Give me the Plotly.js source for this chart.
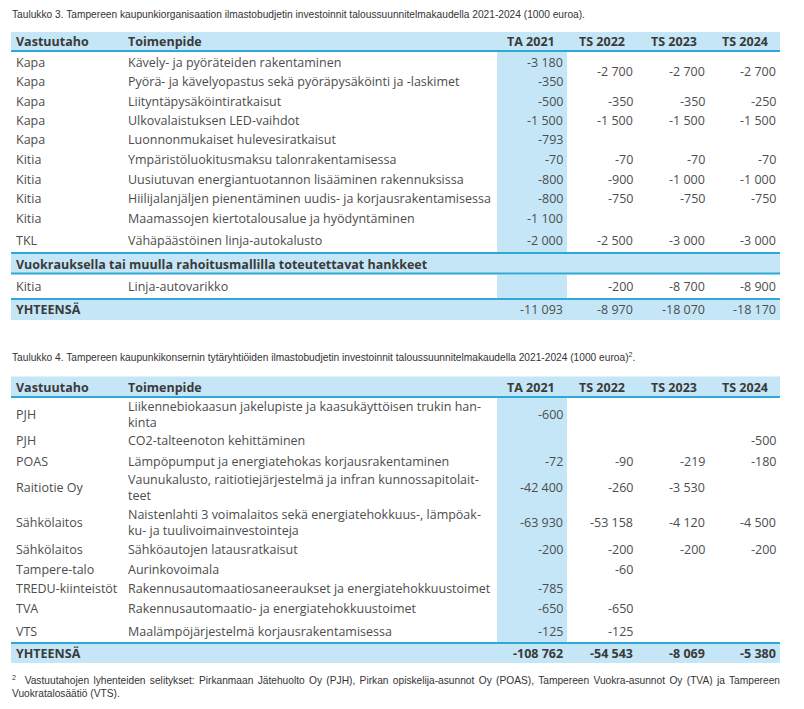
<!DOCTYPE html>
<html>
<head>
<meta charset="utf-8">
<script src="https://cdn.plot.ly/plotly-3.0.1.min.js"></script>
<style>html,body{margin:0;padding:0;background:#fff;}#chart{width:804px;height:709px;}</style>
</head>
<body>
<div id="chart"></div>
<script>
// ---------- DATA ----------
const columns = ['Vastuutaho', 'Toimenpide', 'TA 2021', 'TS 2022', 'TS 2023', 'TS 2024'];

const t1Title = 'Taulukko 3. Tampereen kaupunkiorganisaation ilmastobudjetin investoinnit taloussuunnitelmakaudella 2021-2024 (1000 euroa).';
const t1Vastuu = ['Kapa', 'Kapa', 'Kapa', 'Kapa', 'Kapa', 'Kitia', 'Kitia', 'Kitia', 'Kitia', 'TKL'];
const t1Toimenpide = [
  'Kävely- ja pyöräteiden rakentaminen',
  'Pyörä- ja kävelyopastus sekä pyöräpysäköinti ja -laskimet',
  'Liityntäpysäköintiratkaisut',
  'Ulkovalaistuksen LED-vaihdot',
  'Luonnonmukaiset hulevesiratkaisut',
  'Ympäristöluokitusmaksu talonrakentamisessa',
  'Uusiutuvan energiantuotannon lisääminen rakennuksissa',
  'Hiilijalanjäljen pienentäminen uudis- ja korjausrakentamisessa',
  'Maamassojen kiertotalousalue ja hyödyntäminen',
  'Vähäpäästöinen linja-autokalusto'
];
const t1TA     = [-3180, -350, -500, -1500, -793, -70, -800, -800, -1100, -2000];
// rows 0 and 1 share one merged cell in the TS columns
const t1TS2022 = [-2700, null, -350, -1500, null, -70, -900, -750, null, -2500];
const t1TS2023 = [-2700, null, -350, -1500, null, -70, -1000, -750, null, -3000];
const t1TS2024 = [-2700, null, -250, -1500, null, -70, -1000, -750, null, -3000];
const t1MergedRows = [0, 1];

const t1Section = 'Vuokrauksella tai muulla rahoitusmallilla toteutettavat hankkeet';
const t1SecVastuu = ['Kitia'];
const t1SecToimenpide = ['Linja-autovarikko'];
const t1SecTA = [null];
const t1SecTS2022 = [-200];
const t1SecTS2023 = [-8700];
const t1SecTS2024 = [-8900];

const totalLabel = 'YHTEENSÄ';
const t1Total = [-11093, -8970, -18070, -18170];

const t2Title = 'Taulukko 4. Tampereen kaupunkikonsernin tytäryhtiöiden ilmastobudjetin investoinnit taloussuunnitelmakaudella 2021-2024 (1000 euroa)<sup>2</sup>.';
const t2Vastuu = ['PJH', 'PJH', 'POAS', 'Raitiotie Oy', 'Sähkölaitos', 'Sähkölaitos', 'Tampere-talo', 'TREDU-kiinteistöt', 'TVA', 'VTS'];
const t2Toimenpide = [
  'Liikennebiokaasun jakelupiste ja kaasukäyttöisen trukin han-<br>kinta',
  'CO2-talteenoton kehittäminen',
  'Lämpöpumput ja energiatehokas korjausrakentaminen',
  'Vaunukalusto, raitiotiejärjestelmä ja infran kunnossapitolait-<br>teet',
  'Naistenlahti 3 voimalaitos sekä energiatehokkuus-, lämpöak-<br>ku- ja tuulivoimainvestointeja',
  'Sähköautojen latausratkaisut',
  'Aurinkovoimala',
  'Rakennusautomaatiosaneeraukset ja energiatehokkuustoimet',
  'Rakennusautomaatio- ja energiatehokkuustoimet',
  'Maalämpöjärjestelmä korjausrakentamisessa'
];
const t2TA     = [-600, null, -72, -42400, -63930, -200, null, -785, -650, -125];
const t2TS2022 = [null, null, -90, -260, -53158, -200, -60, null, -650, -125];
const t2TS2023 = [null, null, -219, -3530, -4120, -200, null, null, null, null];
const t2TS2024 = [null, -500, -180, null, -4500, -200, null, null, null, null];
const t2Total = [-108762, -54543, -8069, -5380];

const footnoteLine1 = '<sup>2</sup>  Vastuutahojen lyhenteiden selitykset: Pirkanmaan Jätehuolto Oy (PJH), Pirkan opiskelija-asunnot Oy (POAS), Tampereen Vuokra-asunnot Oy (TVA) ja Tampereen';
const footnoteLine2 = 'Vuokratalosäätiö (VTS).';

// ---------- LAYOUT (positions / styles) ----------
const LIGHT = '#c5e6f6';
const LINE = '#2ea8d8';
const TXT = '#4d4d4d';
const HDR = '#3a3a3a';
const BODY_FONT = 'Open Sans, Noto Sans, sans-serif';
const NARROW_FONT = 'Liberation Sans, Arial, sans-serif';
const FS = 12.5;
const NFS = 10.2;

const tableLeft = 11, tableRight = 780;
const colX = [15, 127, 564, 634, 706, 777];       // left for first two, right edge for numeric
const taBand = [497, 567];

const L1 = { title: 14, hdrTop: 32, hdrBot: 50.5,
  rows: [62, 81, 101, 120, 139, 159, 179, 198, 218, 240], merged: 71.5,
  secTop: 253, secBot: 273.5, secText: 264, secRows: [286],
  totTop: 299, totBot: 320, totText: 309.5 };
const L2 = { title: 357, hdrTop: 376.5, hdrBot: 396.5,
  rows: [414, 440, 461, 487, 522, 549, 569, 588, 608, 631],
  totTop: 643, totBot: 663, totText: 653.5, foot1: 680, foot2: 693 };

function fmt(v) {
  if (v === null || v === undefined) return '';
  const s = Math.abs(v).toString().replace(/\B(?=(\d{3})+(?!\d))/g, ' ');
  return (v < 0 ? '-' : '') + s;
}

const shapes = [];
const ann = [];
function rect(x0, x1, y0, y1, color) {
  shapes.push({ type: 'rect', xref: 'x', yref: 'y', x0, x1, y0, y1, fillcolor: color, line: { width: 0 }, layer: 'below' });
}
function hline(y, w) {
  shapes.push({ type: 'line', xref: 'x', yref: 'y', x0: tableLeft, x1: tableRight, y0: y, y1: y, line: { color: LINE, width: w || 2 } });
}
function txt(x, y, text, anchor, opts) {
  opts = opts || {};
  ann.push({ xref: 'x', yref: 'y', x, y, text, showarrow: false, xanchor: anchor, yanchor: 'middle',
    align: anchor === 'right' ? 'right' : 'left', borderpad: 0, name: opts.name || '',
    font: { family: opts.family || BODY_FONT, size: opts.size || FS, color: opts.color || TXT, weight: opts.weight || 400 } });
}
function header(L) {
  rect(tableLeft, tableRight, L.hdrTop, L.hdrBot, LIGHT);
  hline(L.hdrBot + 0.5, 2);
  const yc = (L.hdrTop + L.hdrBot) / 2 + 0.5;
  columns.forEach((c, i) => {
    const x = i < 2 ? colX[i] : colX[i] - 8;
    txt(x, yc, c, i < 2 ? 'left' : 'right', { weight: 700, color: HDR });
  });
}
function rows(ys, vast, toim, cols, mergedRows, mergedY) {
  ys.forEach((y, r) => {
    txt(colX[0], y, vast[r], 'left');
    txt(colX[1], y, toim[r], 'left');
    cols.forEach((arr, c) => {
      if (arr[r] === null) return;
      let yy = y;
      if (c > 0 && mergedRows && mergedRows.indexOf(r) === 0) yy = mergedY;
      txt(colX[c + 2], yy, fmt(arr[r]), 'right');
    });
  });
}
function totals(L, vals, bold) {
  rect(tableLeft, tableRight, L.totTop, L.totBot, LIGHT);
  hline(L.totTop, 2);
  txt(colX[0], L.totText, totalLabel, 'left', { weight: 700, color: HDR });
  vals.forEach((v, i) => txt(colX[i + 2], L.totText, fmt(v), 'right', bold ? { weight: 700, color: HDR } : {}));
}

// Table 1
txt(11, L1.title, t1Title, 'left', { family: NARROW_FONT, size: NFS, color: '#333' });
header(L1);
rect(taBand[0], taBand[1], L1.hdrBot + 1, L1.secTop, LIGHT);
rows(L1.rows, t1Vastuu, t1Toimenpide, [t1TA, t1TS2022, t1TS2023, t1TS2024], t1MergedRows, L1.merged);
rect(tableLeft, tableRight, L1.secTop, L1.secBot, LIGHT);
hline(L1.secTop, 2);
hline(L1.secBot, 2);
txt(colX[0], L1.secText, t1Section, 'left', { weight: 700, color: HDR });
rect(taBand[0], taBand[1], L1.secBot + 1, L1.totTop, LIGHT);
rows(L1.secRows, t1SecVastuu, t1SecToimenpide, [t1SecTA, t1SecTS2022, t1SecTS2023, t1SecTS2024]);
totals(L1, t1Total, false);

// Table 2
txt(11, L2.title, t2Title, 'left', { family: NARROW_FONT, size: NFS, color: '#333' });
header(L2);
rect(taBand[0], taBand[1], L2.hdrBot + 1, L2.totTop, LIGHT);
rows(L2.rows, t2Vastuu, t2Toimenpide, [t2TA, t2TS2022, t2TS2023, t2TS2024]);
totals(L2, t2Total, true);
txt(11, L2.foot1, footnoteLine1, 'left', { family: NARROW_FONT, size: NFS, color: '#333', name: 'foot1' });
txt(11, L2.foot2, footnoteLine2, 'left', { family: NARROW_FONT, size: NFS, color: '#333' });

const data = [{ type: 'scatter', x: [0], y: [0], mode: 'markers', marker: { opacity: 0 }, hoverinfo: 'skip', showlegend: false }];
const layout = {
  width: 804, height: 709,
  margin: { l: 0, r: 0, t: 0, b: 0, pad: 0 },
  paper_bgcolor: '#fff', plot_bgcolor: '#fff',
  xaxis: { range: [0, 804], visible: false, fixedrange: true },
  yaxis: { range: [709, 0], visible: false, fixedrange: true },
  shapes, annotations: ann, showlegend: false
};
Plotly.newPlot('chart', data, layout, { staticPlot: true, displayModeBar: false }).then(() => {
  // justify the first footnote line to the table width, as in the reference
  document.querySelectorAll('.annotation-text').forEach(el => {
    if (el.textContent.indexOf('Vastuutahojen') >= 0) {
      const w = el.getComputedTextLength();
      const spaces = (el.textContent.match(/ /g) || []).length;
      const target = tableRight - 12;
      if (spaces > 0 && w < target) el.style.wordSpacing = ((target - w) / spaces) + 'px';
    }
  });
});
</script>
</body>
</html>
